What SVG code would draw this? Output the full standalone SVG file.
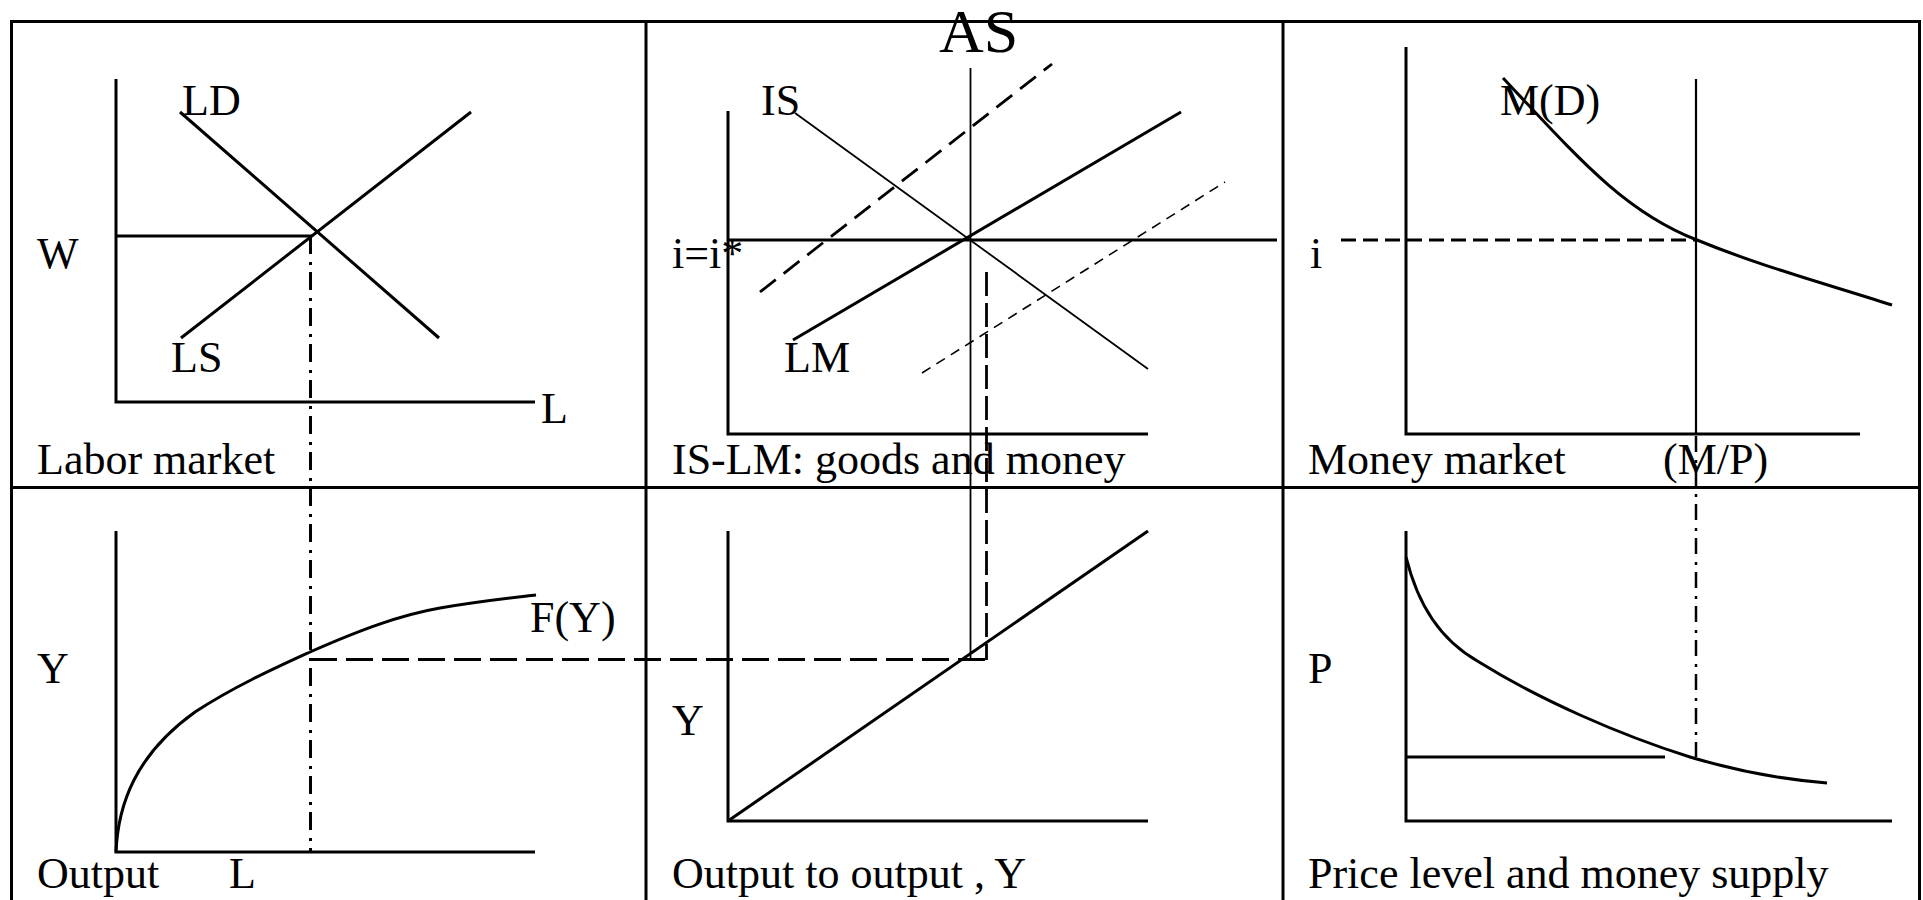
<svg xmlns="http://www.w3.org/2000/svg" width="1923" height="900" viewBox="0 0 1923 900">
<style>
text{font-family:"Liberation Serif","Times New Roman",serif;font-size:44px;fill:#000}
.big{font-size:62px}
.ln{fill:none;stroke:#000;stroke-width:3}
.thin{fill:none;stroke:#000;stroke-width:1.8}
.frame{fill:none;stroke:#000;stroke-width:3}
.dd{fill:none;stroke:#000;stroke-width:3;stroke-dasharray:18 8 3 7}
.ld{fill:none;stroke:#000;stroke-width:3;stroke-dasharray:27 9}
.md{fill:none;stroke:#000;stroke-width:2.8;stroke-dasharray:24 7}
.sd{fill:none;stroke:#000;stroke-width:3;stroke-dasharray:15 7}
.fd{fill:none;stroke:#000;stroke-width:1.6;stroke-dasharray:10 7}
.lmd{fill:none;stroke:#000;stroke-width:2.8;stroke-dasharray:20 10}
</style>
<rect width="1923" height="900" fill="#fff"/>
<g id="frame">
<path class="frame" d="M11.5 910 V21.5 H1919.5 V910"/>
<path class="frame" d="M646 21 V900 M1283 21 V900 M11 487.5 H1919"/>
</g>
<g id="labor-market">
<path class="ln" d="M116 79 V402 H535"/>
<path class="ln" d="M180 112 L439 338"/>
<path class="ln" d="M181 338 L471 112"/>
<path class="ln" d="M116 236 H312"/>
<text x="182" y="115">LD</text>
<text x="37" y="268">W</text>
<text x="171" y="372">LS</text>
<text x="541" y="423">L</text>
<text x="37" y="474">Labor market</text>
</g>
<g id="is-lm">
<path class="ln" d="M728 111 V434 H1148"/>
<path class="thin" d="M795 113 L1148 369"/>
<path class="ln" d="M793 340 L1181 112"/>
<path class="lmd" d="M760 292 L1052 64"/>
<path class="fd" d="M922 373 L1225 182"/>
<path class="ln" d="M728 240 H1277"/>
<path class="thin" d="M970.5 68 V659"/>
<text class="big" x="939" y="52">AS</text>
<text x="761" y="115">IS</text>
<text x="672" y="268">i=i*</text>
<text x="784" y="372">LM</text>
<text x="672" y="474">IS-LM: goods and money</text>
</g>
<g id="money-market">
<path class="ln" d="M1406 47 V434 H1860"/>
<path class="ln" d="M1696 79 V434" style="stroke-width:2.2"/>
<path class="ln" d="M1503 78 C1580 160 1625 212 1697 240 C1760 266 1820 282 1892 305"/>
<path class="sd" d="M1341 240 H1696"/>
<text x="1500" y="115">M(D)</text>
<text x="1310" y="268">i</text>
<text x="1308" y="474">Money market</text>
<text x="1663" y="474">(M/P)</text>
</g>
<g id="output">
<path class="ln" d="M116 531 V852 H535"/>
<path class="ln" d="M116 852 C118 805 135 755 195 712 C235 686 275 668 310 652 C360 630 400 615 440 608 C480 601 510 598 536 595"/>
<text x="37" y="683">Y</text>
<text x="530" y="632">F(Y)</text>
<text x="37" y="888">Output</text>
<text x="229" y="888">L</text>
</g>
<g id="output-to-output">
<path class="ln" d="M728 531 V821 H1148"/>
<path class="ln" d="M728 821 L1148 531"/>
<text x="672" y="735">Y</text>
<text x="672" y="888">Output to output , Y</text>
</g>
<g id="price-level">
<path class="ln" d="M1406 531 V821 H1892"/>
<path class="ln" d="M1406 757 H1665"/>
<path class="ln" d="M1406 557 C1418 605 1440 640 1479 662 C1540 700 1620 735 1690 757 C1740 772 1790 780 1827 783"/>
<text x="1308" y="683">P</text>
<text x="1308" y="888">Price level and money supply</text>
</g>
<g id="connectors">
<path class="dd" d="M310.5 236 V852"/>
<path class="ld" d="M310 659.5 H988"/>
<path class="md" d="M986.5 272 V660"/>
<path class="dd" d="M1696 436 V757" style="stroke-width:2.5;stroke-dasharray:16 8 3 7"/>
</g>
</svg>
